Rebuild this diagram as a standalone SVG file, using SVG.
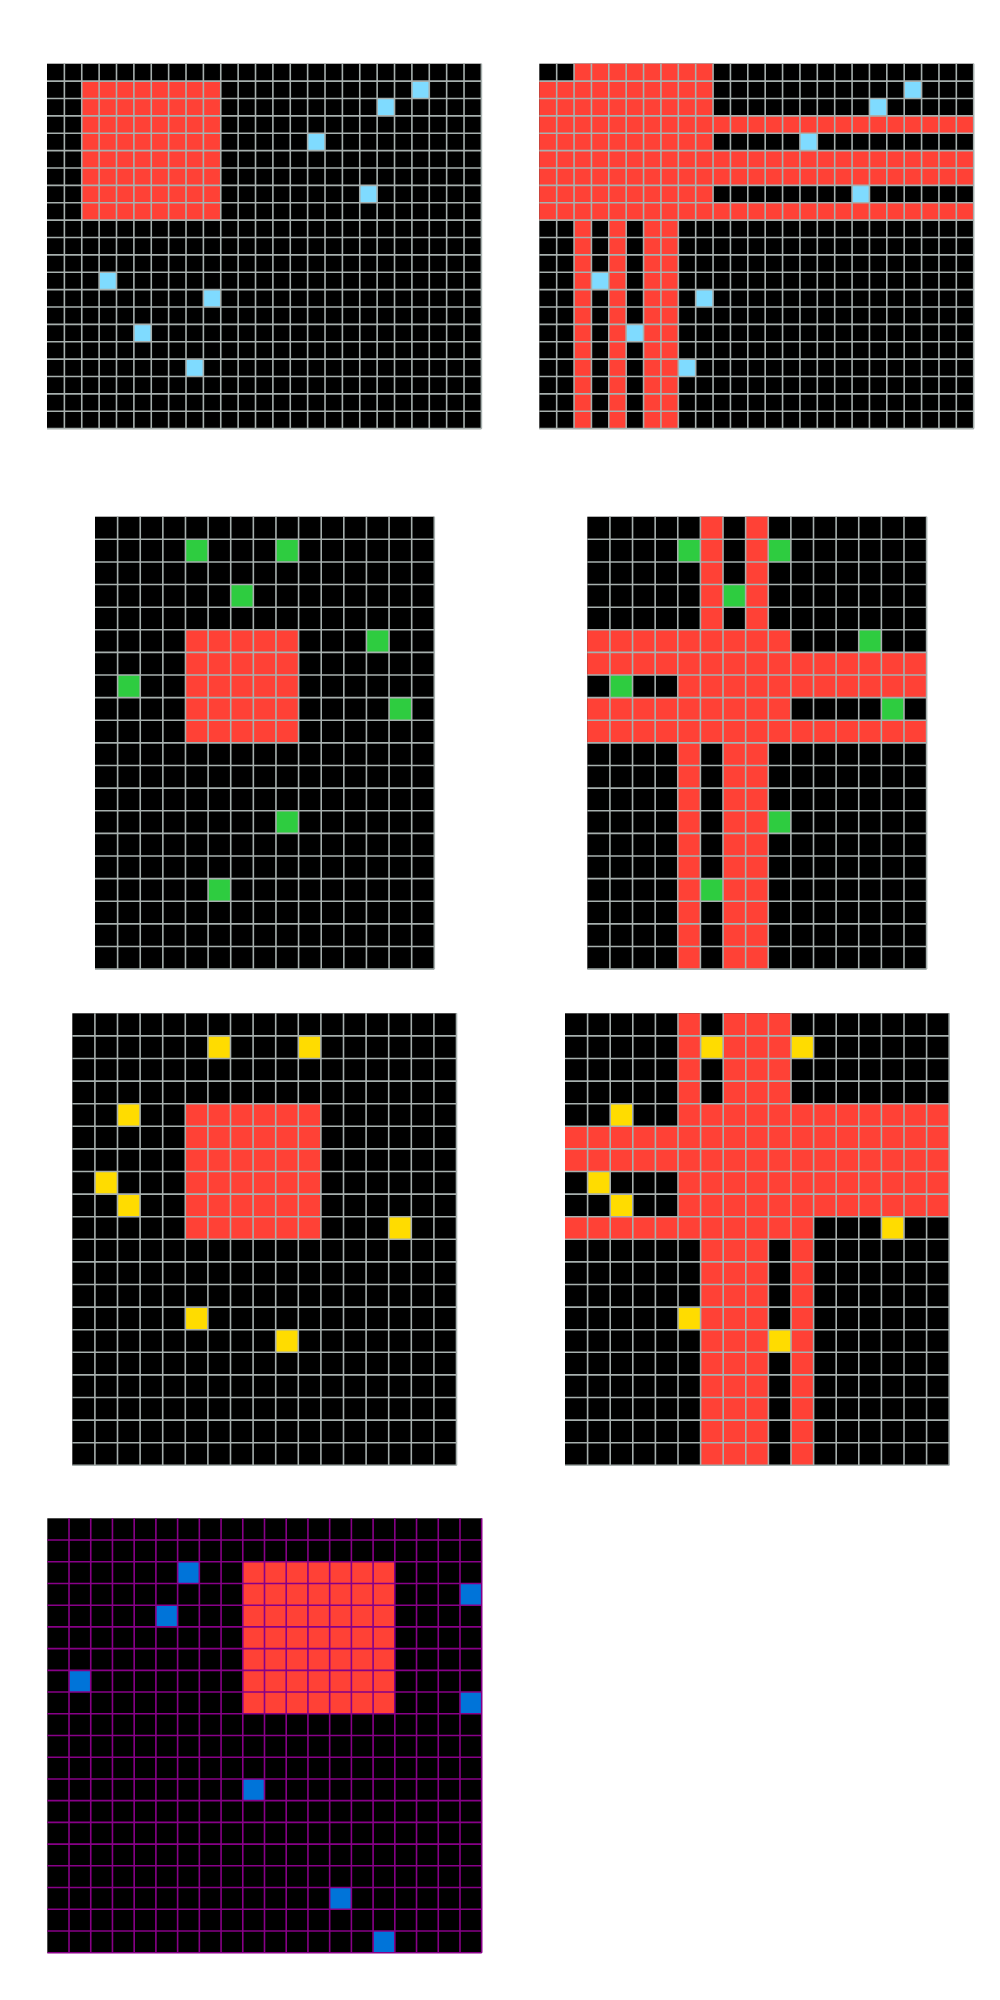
<svg xmlns="http://www.w3.org/2000/svg" width="1000" height="2000" viewBox="0 0 1000 2000">
<style>
.bg{fill:#000000}
.r{fill:#FF4136}
.c{fill:#7FDBFF}
.g{fill:#2ECC40}
.y{fill:#FFDC00}
.b{fill:#0074D9}
.gl{fill:none;stroke:#a7b0ae;stroke-width:1.6;vector-effect:non-scaling-stroke}
.pl{fill:none;stroke:#880088;stroke-width:1.6;vector-effect:non-scaling-stroke}
</style>
<rect x="0" y="0" width="1000" height="2000" fill="#ffffff"/>

<g id="grid1" transform="translate(47,63.7) scale(17.376)">
<rect class="bg" x="0" y="0" width="25" height="21"/>
<rect class="r" x="2" y="1" width="8" height="8"/>
<rect class="c" x="21" y="1" width="1" height="1"/>
<rect class="c" x="19" y="2" width="1" height="1"/>
<rect class="c" x="15" y="4" width="1" height="1"/>
<rect class="c" x="18" y="7" width="1" height="1"/>
<rect class="c" x="3" y="12" width="1" height="1"/>
<rect class="c" x="9" y="13" width="1" height="1"/>
<rect class="c" x="5" y="15" width="1" height="1"/>
<rect class="c" x="8" y="17" width="1" height="1"/>
<path class="gl" d="M1 0V21M2 0V21M3 0V21M4 0V21M5 0V21M6 0V21M7 0V21M8 0V21M9 0V21M10 0V21M11 0V21M12 0V21M13 0V21M14 0V21M15 0V21M16 0V21M17 0V21M18 0V21M19 0V21M20 0V21M21 0V21M22 0V21M23 0V21M24 0V21M25 0V21M0 1H25M0 2H25M0 3H25M0 4H25M0 5H25M0 6H25M0 7H25M0 8H25M0 9H25M0 10H25M0 11H25M0 12H25M0 13H25M0 14H25M0 15H25M0 16H25M0 17H25M0 18H25M0 19H25M0 20H25M0 21H25"/>
</g>

<g id="grid2" transform="translate(539.3,63.7) scale(17.376)">
<rect class="bg" x="0" y="0" width="25" height="21"/>
<rect class="r" x="2" y="0" width="8" height="1"/>
<rect class="r" x="0" y="1" width="10" height="8"/>
<rect class="r" x="10" y="3" width="15" height="1"/>
<rect class="r" x="10" y="5" width="15" height="2"/>
<rect class="r" x="10" y="8" width="15" height="1"/>
<rect class="r" x="2" y="9" width="1" height="12"/>
<rect class="r" x="4" y="9" width="1" height="12"/>
<rect class="r" x="6" y="9" width="2" height="12"/>
<rect class="c" x="21" y="1" width="1" height="1"/>
<rect class="c" x="19" y="2" width="1" height="1"/>
<rect class="c" x="15" y="4" width="1" height="1"/>
<rect class="c" x="18" y="7" width="1" height="1"/>
<rect class="c" x="3" y="12" width="1" height="1"/>
<rect class="c" x="9" y="13" width="1" height="1"/>
<rect class="c" x="5" y="15" width="1" height="1"/>
<rect class="c" x="8" y="17" width="1" height="1"/>
<path class="gl" d="M1 0V21M2 0V21M3 0V21M4 0V21M5 0V21M6 0V21M7 0V21M8 0V21M9 0V21M10 0V21M11 0V21M12 0V21M13 0V21M14 0V21M15 0V21M16 0V21M17 0V21M18 0V21M19 0V21M20 0V21M21 0V21M22 0V21M23 0V21M24 0V21M25 0V21M0 1H25M0 2H25M0 3H25M0 4H25M0 5H25M0 6H25M0 7H25M0 8H25M0 9H25M0 10H25M0 11H25M0 12H25M0 13H25M0 14H25M0 15H25M0 16H25M0 17H25M0 18H25M0 19H25M0 20H25M0 21H25"/>
</g>

<g id="grid3" transform="translate(95,516.7) scale(22.62)">
<rect class="bg" x="0" y="0" width="15" height="20"/>
<rect class="r" x="4" y="5" width="5" height="5"/>
<rect class="g" x="4" y="1" width="1" height="1"/>
<rect class="g" x="8" y="1" width="1" height="1"/>
<rect class="g" x="6" y="3" width="1" height="1"/>
<rect class="g" x="12" y="5" width="1" height="1"/>
<rect class="g" x="1" y="7" width="1" height="1"/>
<rect class="g" x="13" y="8" width="1" height="1"/>
<rect class="g" x="8" y="13" width="1" height="1"/>
<rect class="g" x="5" y="16" width="1" height="1"/>
<path class="gl" d="M1 0V20M2 0V20M3 0V20M4 0V20M5 0V20M6 0V20M7 0V20M8 0V20M9 0V20M10 0V20M11 0V20M12 0V20M13 0V20M14 0V20M15 0V20M0 1H15M0 2H15M0 3H15M0 4H15M0 5H15M0 6H15M0 7H15M0 8H15M0 9H15M0 10H15M0 11H15M0 12H15M0 13H15M0 14H15M0 15H15M0 16H15M0 17H15M0 18H15M0 19H15M0 20H15"/>
</g>

<g id="grid4" transform="translate(587.3,516.7) scale(22.62)">
<rect class="bg" x="0" y="0" width="15" height="20"/>
<rect class="r" x="5" y="0" width="1" height="5"/>
<rect class="r" x="7" y="0" width="1" height="5"/>
<rect class="r" x="0" y="5" width="9" height="1"/>
<rect class="r" x="0" y="6" width="15" height="1"/>
<rect class="r" x="4" y="7" width="11" height="1"/>
<rect class="r" x="0" y="8" width="9" height="1"/>
<rect class="r" x="0" y="9" width="15" height="1"/>
<rect class="r" x="4" y="10" width="1" height="10"/>
<rect class="r" x="6" y="10" width="2" height="10"/>
<rect class="g" x="4" y="1" width="1" height="1"/>
<rect class="g" x="8" y="1" width="1" height="1"/>
<rect class="g" x="6" y="3" width="1" height="1"/>
<rect class="g" x="12" y="5" width="1" height="1"/>
<rect class="g" x="1" y="7" width="1" height="1"/>
<rect class="g" x="13" y="8" width="1" height="1"/>
<rect class="g" x="8" y="13" width="1" height="1"/>
<rect class="g" x="5" y="16" width="1" height="1"/>
<path class="gl" d="M1 0V20M2 0V20M3 0V20M4 0V20M5 0V20M6 0V20M7 0V20M8 0V20M9 0V20M10 0V20M11 0V20M12 0V20M13 0V20M14 0V20M15 0V20M0 1H15M0 2H15M0 3H15M0 4H15M0 5H15M0 6H15M0 7H15M0 8H15M0 9H15M0 10H15M0 11H15M0 12H15M0 13H15M0 14H15M0 15H15M0 16H15M0 17H15M0 18H15M0 19H15M0 20H15"/>
</g>

<g id="grid5" transform="translate(72.3,1013.3) scale(22.6)">
<rect class="bg" x="0" y="0" width="17" height="20"/>
<rect class="r" x="5" y="4" width="6" height="6"/>
<rect class="y" x="6" y="1" width="1" height="1"/>
<rect class="y" x="10" y="1" width="1" height="1"/>
<rect class="y" x="2" y="4" width="1" height="1"/>
<rect class="y" x="1" y="7" width="1" height="1"/>
<rect class="y" x="2" y="8" width="1" height="1"/>
<rect class="y" x="14" y="9" width="1" height="1"/>
<rect class="y" x="5" y="13" width="1" height="1"/>
<rect class="y" x="9" y="14" width="1" height="1"/>
<path class="gl" d="M1 0V20M2 0V20M3 0V20M4 0V20M5 0V20M6 0V20M7 0V20M8 0V20M9 0V20M10 0V20M11 0V20M12 0V20M13 0V20M14 0V20M15 0V20M16 0V20M17 0V20M0 1H17M0 2H17M0 3H17M0 4H17M0 5H17M0 6H17M0 7H17M0 8H17M0 9H17M0 10H17M0 11H17M0 12H17M0 13H17M0 14H17M0 15H17M0 16H17M0 17H17M0 18H17M0 19H17M0 20H17"/>
</g>

<g id="grid6" transform="translate(565,1013.3) scale(22.6)">
<rect class="bg" x="0" y="0" width="17" height="20"/>
<rect class="r" x="5" y="0" width="1" height="4"/>
<rect class="r" x="7" y="0" width="3" height="4"/>
<rect class="r" x="5" y="4" width="12" height="1"/>
<rect class="r" x="0" y="5" width="17" height="2"/>
<rect class="r" x="5" y="7" width="12" height="2"/>
<rect class="r" x="0" y="9" width="11" height="1"/>
<rect class="r" x="6" y="10" width="3" height="10"/>
<rect class="r" x="10" y="10" width="1" height="10"/>
<rect class="y" x="6" y="1" width="1" height="1"/>
<rect class="y" x="10" y="1" width="1" height="1"/>
<rect class="y" x="2" y="4" width="1" height="1"/>
<rect class="y" x="1" y="7" width="1" height="1"/>
<rect class="y" x="2" y="8" width="1" height="1"/>
<rect class="y" x="14" y="9" width="1" height="1"/>
<rect class="y" x="5" y="13" width="1" height="1"/>
<rect class="y" x="9" y="14" width="1" height="1"/>
<path class="gl" d="M1 0V20M2 0V20M3 0V20M4 0V20M5 0V20M6 0V20M7 0V20M8 0V20M9 0V20M10 0V20M11 0V20M12 0V20M13 0V20M14 0V20M15 0V20M16 0V20M17 0V20M0 1H17M0 2H17M0 3H17M0 4H17M0 5H17M0 6H17M0 7H17M0 8H17M0 9H17M0 10H17M0 11H17M0 12H17M0 13H17M0 14H17M0 15H17M0 16H17M0 17H17M0 18H17M0 19H17M0 20H17"/>
</g>

<g id="grid7" transform="translate(47.3,1518.3) scale(21.72)">
<rect class="bg" x="0" y="0" width="20" height="20"/>
<rect class="r" x="9" y="2" width="7" height="7"/>
<rect class="b" x="6" y="2" width="1" height="1"/>
<rect class="b" x="19" y="3" width="1" height="1"/>
<rect class="b" x="5" y="4" width="1" height="1"/>
<rect class="b" x="1" y="7" width="1" height="1"/>
<rect class="b" x="19" y="8" width="1" height="1"/>
<rect class="b" x="9" y="12" width="1" height="1"/>
<rect class="b" x="13" y="17" width="1" height="1"/>
<rect class="b" x="15" y="19" width="1" height="1"/>
<path class="pl" d="M1 0V20M2 0V20M3 0V20M4 0V20M5 0V20M6 0V20M7 0V20M8 0V20M9 0V20M10 0V20M11 0V20M12 0V20M13 0V20M14 0V20M15 0V20M16 0V20M17 0V20M18 0V20M19 0V20M20 0V20M0 1H20M0 2H20M0 3H20M0 4H20M0 5H20M0 6H20M0 7H20M0 8H20M0 9H20M0 10H20M0 11H20M0 12H20M0 13H20M0 14H20M0 15H20M0 16H20M0 17H20M0 18H20M0 19H20M0 20H20"/>
</g>
</svg>
